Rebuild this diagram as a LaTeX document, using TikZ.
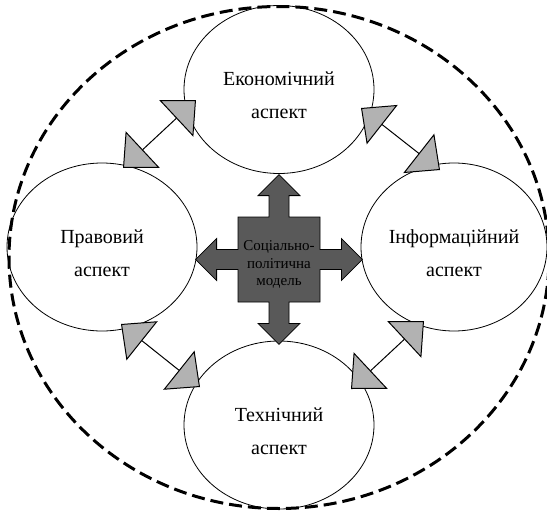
\documentclass[tikz,border=0pt]{standalone}
\usepackage{fontspec}
\setmainfont{Liberation Serif}
\usetikzlibrary{shapes.geometric, shapes.arrows, arrows.meta}

\tikzset{
  aspect/.style={draw, ellipse, line width=0.8pt, minimum width=190pt, minimum height=168pt, inner sep=0pt},
  aspecttext/.style={font=\fontsize{20}{33}\selectfont, align=center, yshift=-6pt},
  modeltext/.style={font=\fontsize{15}{17.5}\selectfont, align=center, yshift=-5pt},
  linktip/.style={Triangle[length=27pt, width=50pt, fill=black!30]},
  link/.style={line width=1pt, {Triangle[length=27pt, width=50pt, fill=black!30]}-{Triangle[length=27pt, width=50pt, fill=black!30]}},
  quadarrow/.style={arrow box, draw, fill=black!65, line width=0.8pt,
    arrow box arrows={north:42pt, south:42pt, east:42pt, west:42pt},
    arrow box shaft width=20pt, arrow box head extend=11pt, arrow box head indent=0pt,
    arrow box tip angle=90, minimum width=82pt, minimum height=85pt, inner sep=0pt}
}

\begin{document}
\begin{tikzpicture}[x=1pt, y=-1pt]
\useasboundingbox (0,0) rectangle (547,514);
\node[draw, ellipse, dashed, line width=3pt, dash pattern=on 13pt off 6pt, minimum width=540pt, minimum height=502pt, inner sep=0pt] (frame) at (279,257.5) {};
% aspects
\node[aspect] (econ) at (279,89.5) {};
\node[aspect] (pravo) at (102,247) {};
\node[aspect, minimum width=186pt] (info) at (454,247) {};
\node[aspect] (tech) at (279,425) {};
\node[aspecttext] (econ-t) at (econ) {Економічний\\аспект};
\node[aspecttext] (pravo-t) at (pravo) {Правовий\\аспект};
\node[aspecttext] (info-t) at (info) {Інформаційний\\аспект};
\node[aspecttext] (tech-t) at (tech) {Технічний\\аспект};
% links
\coordinate (pe-1) at (123,168);
\coordinate (pe-2) at (196,100);
\coordinate (ei-1) at (361,108);
\coordinate (ei-2) at (440,170);
\coordinate (pt-1) at (121,324);
\coordinate (pt-2) at (200,387);
\coordinate (it-1) at (424,321);
\coordinate (it-2) at (351,389);
\draw[link] (pe-1) -- (pe-2);
\draw[link] (ei-1) -- (ei-2);
\draw[link] (pt-1) -- (pt-2);
\draw[link] (it-1) -- (it-2);
% model
\node[quadarrow] (model) at (279,259.5) {};
\node[modeltext] (model-t) at (model) {Соціально-\\політична\\модель};
\end{tikzpicture}
\end{document}
